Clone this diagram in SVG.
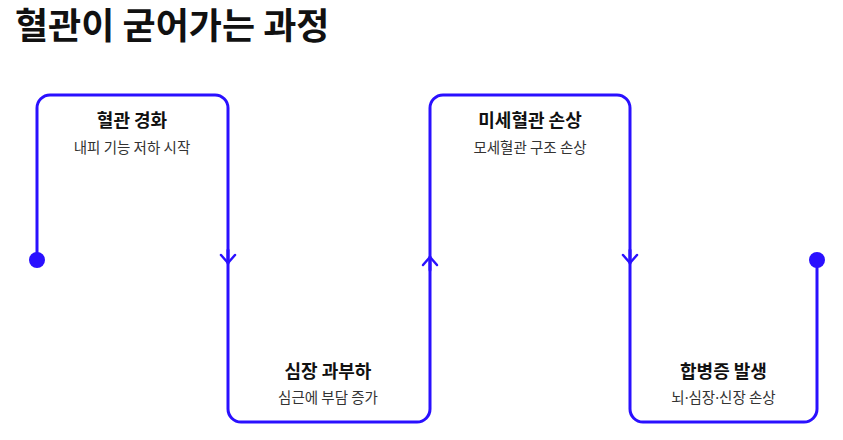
<svg xmlns="http://www.w3.org/2000/svg" width="843" height="440" viewBox="0 0 843 440">
<style>
.title{font-family:"Noto Sans CJK KR","Noto Sans",sans-serif;font-weight:700;font-size:36px;fill:#111}
.nt{font-family:"Noto Sans CJK KR","Noto Sans",sans-serif;font-weight:700;font-size:18px;fill:#111;text-anchor:middle}
.ns{font-family:"Noto Sans CJK KR","Noto Sans",sans-serif;font-weight:400;font-size:14.5px;fill:#333;text-anchor:middle}
.md{font-family:"Noto Sans","DejaVu Sans",sans-serif}
.line{fill:none;stroke:#2a10ff;stroke-width:3;stroke-linejoin:round;stroke-linecap:round}
.dot{fill:#2a10ff}
</style>
<defs>
<marker id="chev" markerUnits="userSpaceOnUse" viewBox="-10 -10 20 20" markerWidth="20" markerHeight="20" refX="0" refY="0" orient="auto" overflow="visible">
<polyline points="-8,-7 0,0 -8,7" fill="none" stroke="#2a10ff" stroke-width="2.5" stroke-linecap="round" stroke-linejoin="round"/>
</marker>
</defs>
<rect width="843" height="440" fill="#fff"/>
<text class="title" x="15" y="39">혈관이 굳어가는 과정</text>
<g id="connectors">
<path class="line" d="M37,260 V108 A13,13 0 0 1 50,95 H215 A13,13 0 0 1 228,108 V409 A13,13 0 0 0 241,422 H417 A13,13 0 0 0 430,409 V108 A13,13 0 0 1 443,95 H617 A13,13 0 0 1 630,108 V409 A13,13 0 0 0 643,422 H804 A13,13 0 0 0 817,409 V260"/>
<path class="line" d="M228,250 V263" marker-end="url(#chev)"/>
<path class="line" d="M430,270 V257" marker-end="url(#chev)"/>
<path class="line" d="M630,250 V263" marker-end="url(#chev)"/>
<circle class="dot" cx="37" cy="260" r="8"/>
<circle class="dot" cx="817" cy="260" r="8"/>
</g>
<g id="node1">
<text class="nt" x="132" y="127">혈관 경화</text>
<text class="ns" x="132" y="153">내피 기능 저하 시작</text>
</g>
<g id="node2">
<text class="nt" x="328" y="378">심장 과부하</text>
<text class="ns" x="328" y="403">심근에 부담 증가</text>
</g>
<g id="node3">
<text class="nt" x="530" y="127">미세혈관 손상</text>
<text class="ns" x="530" y="153">모세혈관 구조 손상</text>
</g>
<g id="node4">
<text class="nt" x="723.5" y="378">합병증 발생</text>
<text class="ns" x="723.5" y="403">뇌<tspan class="md">·</tspan>심장<tspan class="md">·</tspan>신장 손상</text>
</g>
</svg>
